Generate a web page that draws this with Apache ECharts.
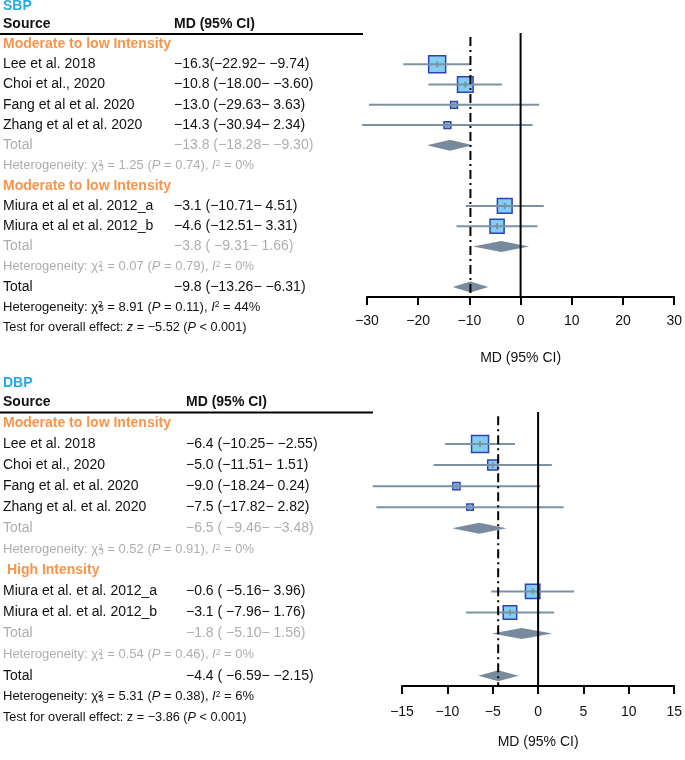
<!DOCTYPE html>
<html><head><meta charset="utf-8">
<script src="https://cdn.jsdelivr.net/npm/echarts@6/dist/echarts.min.js"></script>
<style>html,body{margin:0;padding:0;background:#fff}#c{width:685px;height:760px}</style>
</head><body><div id="c"></div>
<script>
// ---------- SBP data ----------
const sbpGroupNames = ['Moderate to low Intensity', 'Moderate to low Intensity'];
const sbpStudies = ['Lee et al. 2018', 'Choi et al., 2020', 'Fang et al et al. 2020', 'Zhang et al et al. 2020', 'Miura et al et al. 2012_a', 'Miura et al et al. 2012_b'];
const sbpGroupOf = [0, 0, 0, 0, 1, 1];
const sbpMD = [-16.3, -10.8, -13.0, -14.3, -3.1, -4.6];
const sbpLo = [-22.92, -18.00, -29.63, -30.94, -10.71, -12.51];
const sbpHi = [-9.74, -3.60, 3.63, 2.34, 4.51, 3.31];
const sbpWeight = [27.8, 23.3, 4.4, 4.4, 20.8, 19.2];
const sbpCI = ['−16.3(−22.92− −9.74)', '−10.8 (−18.00− −3.60)', '−13.0 (−29.63− 3.63)', '−14.3 (−30.94− 2.34)', '−3.1 (−10.71− 4.51)', '−4.6 (−12.51− 3.31)'];
const sbpSubMD = [-13.8, -3.8];
const sbpSubLo = [-18.28, -9.31];
const sbpSubHi = [-9.30, 1.66];
const sbpSubCI = ['−13.8 (−18.28− −9.30)', '−3.8 ( −9.31− 1.66)'];
const sbpSubChi = [1.25, 0.07];
const sbpSubDf = [3, 1];
const sbpSubP = [0.74, 0.79];
const sbpSubI2 = [0, 0];
const sbpAll = [-9.8, -13.26, -6.31];
const sbpAllCI = '−9.8 (−13.26− −6.31)';
const sbpAllHet = [8.91, 5, 0.11, 44];
const sbpZ = -5.52;
const sbpAxis = [-30, 30, 10];

// ---------- DBP data ----------
const dbpGroupNames = ['Moderate to low Intensity', ' High Intensity'];
const dbpStudies = ['Lee et al. 2018', 'Choi et al., 2020', 'Fang et al. et al. 2020', 'Zhang et al. et al. 2020', 'Miura et al. et al. 2012_a', 'Miura et al. et al. 2012_b'];
const dbpGroupOf = [0, 0, 0, 0, 1, 1];
const dbpMD = [-6.4, -5.0, -9.0, -7.5, -0.6, -3.1];
const dbpLo = [-10.25, -11.51, -18.24, -17.82, -5.16, -7.96];
const dbpHi = [-2.55, 1.51, 0.24, 2.82, 3.96, 1.76];
const dbpWeight = [33.2, 11.6, 5.8, 4.6, 23.7, 20.9];
const dbpCI = ['−6.4 (−10.25− −2.55)', '−5.0 (−11.51− 1.51)', '−9.0 (−18.24− 0.24)', '−7.5 (−17.82− 2.82)', '−0.6 ( −5.16− 3.96)', '−3.1 ( −7.96− 1.76)'];
const dbpSubMD = [-6.5, -1.8];
const dbpSubLo = [-9.46, -5.10];
const dbpSubHi = [-3.48, 1.56];
const dbpSubCI = ['−6.5 ( −9.46− −3.48)', '−1.8 ( −5.10− 1.56)'];
const dbpSubChi = [0.52, 0.54];
const dbpSubDf = [3, 1];
const dbpSubP = [0.91, 0.46];
const dbpSubI2 = [0, 0];
const dbpAll = [-4.4, -6.59, -2.15];
const dbpAllCI = '−4.4 ( −6.59− −2.15)';
const dbpAllHet = [5.31, 5, 0.38, 6];
const dbpZ = -3.86;
const dbpAxis = [-15, 15, 5];

// ---------- styling ----------
const FONT = "'Liberation Sans', Arial, Helvetica, sans-serif";
const C_TITLE = '#27A9E1', C_GROUP = '#F7954B', C_GRAY = '#AEAEAE', C_TXT = '#111111';
const C_CI = '#7D91A4', C_BOX = '#80CFF0', C_BOXB = '#3040B8', C_DIA = '#788B9C';

function minus(v) { return v < 0 ? '−' + Math.abs(v) : String(v); }

function hetText(chi, df, p, i2) {
  return 'Heterogeneity: χ{sst|2}{sub|' + df + '} = ' + chi.toFixed(2) + ' ({i|P} = ' + p.toFixed(2) + '), {i|I}{sup|2} = ' + i2 + '%';
}

function buildPanel(P) {
  const rows = [];
  let r = 0;
  const studyData = [], diaData = [];
  for (let g = 0; g < P.groups.length; g++) {
    rows.push({ row: r++, kind: 'group', a: P.groups[g] });
    for (let i = 0; i < P.studies.length; i++) {
      if (P.groupOf[i] !== g) continue;
      rows.push({ row: r, kind: 'study', a: P.studies[i], b: P.ci[i] });
      studyData.push([P.md[i], r, P.lo[i], P.hi[i], P.w[i]]);
      r++;
    }
    rows.push({ row: r, kind: 'sub', a: 'Total', b: P.subCI[g] });
    diaData.push([P.subMD[g], r, P.subLo[g], P.subHi[g]]);
    r++;
    rows.push({ row: r++, kind: 'subhet', a: hetText(P.subChi[g], P.subDf[g], P.subP[g], P.subI2[g]) });
  }
  rows.push({ row: r, kind: 'all', a: 'Total', b: P.allCI });
  diaData.push([P.all[0], r, P.all[1], P.all[2]]);
  r++;
  rows.push({ row: r++, kind: 'allhet', a: hetText(P.allHet[0], P.allHet[1], P.allHet[2], P.allHet[3]) });
  rows.push({ row: r++, kind: 'test', a: 'Test for overall effect: ' + (P.zItalic ? '{i|z}' : 'z') + ' = ' + minus(P.z) + ' ({i|P} < 0.001)' });
  rows.push({ row: -1.9, kind: 'title', a: P.title });
  rows.push({ row: -1, kind: 'header', a: 'Source', b: 'MD (95% CI)' });
  rows.push({ row: -0.5, kind: 'rule' });
  return { rows, studyData, diaData };
}

function richFor(color, fs) {
  return {
    i: { fontStyle: 'italic', fontSize: fs, fill: color, fontFamily: FONT },
    sst: { fontSize: 8.5, fill: color, verticalAlign: 'top', fontFamily: FONT, width: 1 },
    sup: { fontSize: 8.5, fill: color, verticalAlign: 'top', fontFamily: FONT },
    sub: { fontSize: 8.5, fill: color, verticalAlign: 'bottom', fontFamily: FONT }
  };
}

const panels = [
  { title: 'SBP', groups: sbpGroupNames, studies: sbpStudies, groupOf: sbpGroupOf, md: sbpMD, lo: sbpLo, hi: sbpHi, w: sbpWeight, ci: sbpCI,
    subMD: sbpSubMD, subLo: sbpSubLo, subHi: sbpSubHi, subCI: sbpSubCI, subChi: sbpSubChi, subDf: sbpSubDf, subP: sbpSubP, subI2: sbpSubI2,
    all: sbpAll, allCI: sbpAllCI, allHet: sbpAllHet, z: sbpZ, zItalic: true, axis: sbpAxis,
    grid: { left: 367, top: 33, width: 311, height: 264 }, yr: [-0.55, 12.5], mdX: 174, ruleEnd: 363, labelMargin: 17, nameGap: 54 },
  { title: 'DBP', groups: dbpGroupNames, studies: dbpStudies, groupOf: dbpGroupOf, md: dbpMD, lo: dbpLo, hi: dbpHi, w: dbpWeight, ci: dbpCI,
    subMD: dbpSubMD, subLo: dbpSubLo, subHi: dbpSubHi, subCI: dbpSubCI, subChi: dbpSubChi, subDf: dbpSubDf, subP: dbpSubP, subI2: dbpSubI2,
    all: dbpAll, allCI: dbpAllCI, allHet: dbpAllHet, z: dbpZ, zItalic: false, axis: dbpAxis,
    grid: { left: 402, top: 412, width: 273, height: 274 }, yr: [-0.52, 12.49], mdX: 186, ruleEnd: 373, labelMargin: 19, nameGap: 49 }
];

const grids = [], xAxes = [], yAxes = [], series = [];
panels.forEach((P, k) => {
  const B = buildPanel(P);
  grids.push(P.grid);
  xAxes.push({
    gridIndex: k, type: 'value', min: P.axis[0], max: P.axis[1], interval: P.axis[2], position: 'bottom',
    axisLine: { onZero: false, lineStyle: { color: '#000', width: 2 } },
    axisTick: { inside: false, length: 8, lineStyle: { color: '#000', width: 2 } },
    axisLabel: { color: C_TXT, fontSize: 14, fontFamily: FONT, margin: P.labelMargin, formatter: v => minus(v) },
    splitLine: { show: false },
    name: 'MD (95% CI)', nameLocation: 'middle', nameGap: P.nameGap,
    nameTextStyle: { color: C_TXT, fontSize: 14, fontFamily: FONT }
  });
  yAxes.push({ gridIndex: k, type: 'value', inverse: true, min: P.yr[0], max: P.yr[1], show: false });

  const maxW = Math.max.apply(null, P.w);
  series.push({
    type: 'custom', xAxisIndex: k, yAxisIndex: k, silent: true, z: 3,
    encode: { x: 0, y: 1 }, data: B.studyData,
    renderItem: (params, api) => {
      const md = api.value(0), row = api.value(1), lo = api.value(2), hi = api.value(3), w = api.value(4);
      const c = api.coord([md, row]), l = api.coord([lo, row]), h = api.coord([hi, row]);
      const s = 17 * Math.sqrt(w / maxW);
      return { type: 'group', children: [
        { type: 'rect', shape: { x: c[0] - s / 2, y: c[1] - s / 2, width: s, height: s }, style: { fill: C_BOX, stroke: C_BOXB, lineWidth: 1.5 } },
        { type: 'line', shape: { x1: l[0], y1: c[1], x2: h[0], y2: c[1] }, style: { stroke: C_CI, lineWidth: 2 } },
        { type: 'line', shape: { x1: c[0], y1: c[1] - 3, x2: c[0], y2: c[1] + 3 }, style: { stroke: C_CI, lineWidth: 2 } }
      ] };
    }
  });
  series.push({
    type: 'custom', xAxisIndex: k, yAxisIndex: k, silent: true, z: 3,
    encode: { x: 0, y: 1 }, data: B.diaData,
    renderItem: (params, api) => {
      const md = api.value(0), row = api.value(1), lo = api.value(2), hi = api.value(3);
      const c = api.coord([md, row]), l = api.coord([lo, row]), h = api.coord([hi, row]);
      return { type: 'polygon', shape: { points: [[l[0], c[1]], [c[0], c[1] - 5.5], [h[0], c[1]], [c[0], c[1] + 5.5]] }, style: { fill: C_DIA } };
    }
  });
  series.push({
    type: 'custom', xAxisIndex: k, yAxisIndex: k, silent: true, z: 5,
    encode: { x: 0 }, data: [[0, 0], [P.all[0], 1]],
    renderItem: (params, api) => {
      const x = api.value(0), dash = api.value(1) === 1;
      const top = api.coord([x, dash ? P.yr[0] + 0.2 : P.yr[0]]), bot = api.coord([x, P.yr[1]]);
      return { type: 'line', shape: { x1: top[0], y1: top[1], x2: bot[0], y2: bot[1] },
        style: { stroke: '#000', lineWidth: 2, lineDash: dash ? [9, 4, 2, 4] : null } };
    }
  });
  const rows = B.rows;
  series.push({
    type: 'custom', xAxisIndex: k, yAxisIndex: k, silent: true, z: 4,
    encode: { x: 0, y: 1 }, data: rows.map((rw, i) => [P.axis[0], rw.row, i]),
    renderItem: (params, api) => {
      const rw = rows[api.value(2)];
      const y = api.coord([P.axis[0], rw.row])[1];
      const base = { fontFamily: FONT, verticalAlign: 'middle', align: 'left' };
      const T = (x, text, extra) => ({ type: 'text', x: x, y: y, style: Object.assign({}, base, { text: text }, extra) });
      switch (rw.kind) {
        case 'title': return T(3, rw.a, { fill: C_TITLE, fontSize: 14, fontWeight: 'bold' });
        case 'header': return { type: 'group', children: [
          T(3, rw.a, { fill: C_TXT, fontSize: 14, fontWeight: 'bold' }),
          T(P.mdX, rw.b, { fill: C_TXT, fontSize: 14, fontWeight: 'bold' })] };
        case 'rule': return { type: 'line', shape: { x1: 0, y1: y, x2: P.ruleEnd, y2: y }, style: { stroke: '#000', lineWidth: 2 } };
        case 'group': return T(3, rw.a, { fill: C_GROUP, fontSize: 14, fontWeight: 'bold' });
        case 'study': case 'all': return { type: 'group', children: [
          T(3, rw.a, { fill: C_TXT, fontSize: 14 }), T(P.mdX, rw.b, { fill: C_TXT, fontSize: 14 })] };
        case 'sub': return { type: 'group', children: [
          T(3, rw.a, { fill: C_GRAY, fontSize: 14 }), T(P.mdX, rw.b, { fill: C_GRAY, fontSize: 14 })] };
        case 'subhet': return T(3, rw.a, { fill: C_GRAY, fontSize: 13, rich: richFor(C_GRAY, 13) });
        case 'allhet': return T(3, rw.a, { fill: C_TXT, fontSize: 13, rich: richFor(C_TXT, 13) });
        default: return T(3, rw.a, { fill: C_TXT, fontSize: 12.7, rich: richFor(C_TXT, 12.7) });
      }
    }
  });
});

const chart = echarts.init(document.getElementById('c'), null, { renderer: 'canvas' });
chart.setOption({
  animation: false, backgroundColor: '#fff',
  grid: grids, xAxis: xAxes, yAxis: yAxes, series: series
});
</script></body></html>
